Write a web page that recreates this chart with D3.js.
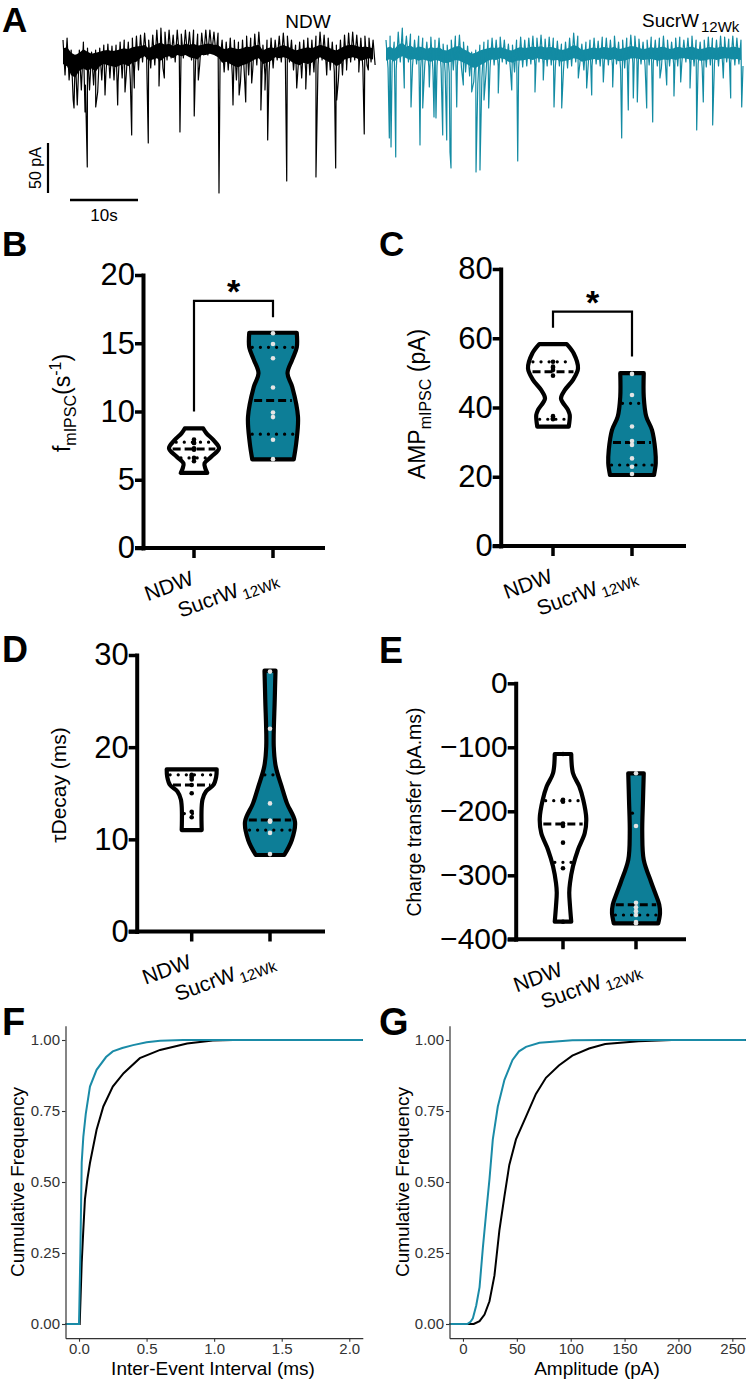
<!DOCTYPE html>
<html><head><meta charset="utf-8">
<script src="https://cdn.jsdelivr.net/npm/d3@7"></script>
<style>body{margin:0;background:#fff}svg{display:block}</style>
</head><body><svg id="fig" width="746" height="1380"></svg>
<script>
// ---------------- DATA ----------------
const groups = ["NDW", "SucrW12Wk"];

// Panel A traces (pA, sampled every traceDt seconds: upper / lower noise envelope) and events [time s, pA]
const traceDt = 0.6;
const ndwTraceTop = [15,17,5,0,5,13,7,3,5,7, 10,11,9,10,13,15,13,17,19,20, 22,15,20,25,27,23,25,20,25,21, 25,23,25,21,22,25,25,23,22,15, 13,17,15,13,15,19,17,21,23,10, 15,17,15,19,22,19,15,10,13,15, 17,15,19,23,20,17,13,10,15,20, 22,23,20,17,19,17,15];
const ndwTraceBottom = [-20,-25,-45,-50,-35,-30,-35,-30,-37,-25, -20,-23,-25,-27,-23,-20,-25,-17,-15,-7, -3,-13,-10,-7,-13,-5,-3,-7,0,-3, 0,-5,-7,-10,0,0,3,0,-5,-17, -15,-20,-25,-27,-23,-20,-15,-10,-7,-20, -17,-13,-5,-7,-5,-7,-15,-20,-23,-17, -20,-17,-10,-5,-10,-15,-17,-25,-20,-10, -7,-5,-7,-13,-10,-7,-10];
const ndwEvents = [[1.62,-53],[3.24,-57],[3.57,-112],[4.81,-52],[6.18,-40],[8.04,-50],[9.12,-37],[10.1,-80],[10.49,-33],[12.54,-88],[14.12,-31],[14.9,-23],[17.2,-77],[19.3,-61],[19.9,-25],[22.94,-138],[25.0,-50],[25.9,-40],[26.87,-47],[27.75,-28],[29.1,-55],[29.7,-35],[30.1,-85],[32.9,-126],[34.37,-33],[35.7,-34],[37.2,-122],[38.78,-20],[40.1,-113],[40.25,-45],[41.7,-15],[43.5,-17],[44.3,-79],[44.9,-15]];

const sucTraceTop = [15,19,13,23,27,19,21,15,19,17, 13,18,15,17,11,10,15,19,20,13, 9,3,5,10,13,15,17,15,18,15, 11,10,15,18,15,17,19,17,20,16, 18,17,14,11,13,17,22,19,11,13, 15,17,14,18,17,15,19,13,15,17, 20,19,16,13,15,18,15,17,19,15, 13,17,18,15,17,19,15,13,15,18, 17,15,19,18,16,19,17,15];
const sucTraceBottom = [-13,-9,-15,-7,-3,-7,-11,-9,-13,-10, -12,-15,-11,-13,-17,-18,-15,-11,-13,-17, -21,-27,-29,-23,-19,-13,-10,-11,-7,-9, -15,-17,-13,-12,-11,-9,-11,-7,-9,-11, -10,-12,-11,-15,-13,-11,-7,-9,-15,-13, -11,-9,-11,-8,-10,-11,-9,-14,-13,-11, -8,-7,-9,-11,-10,-9,-11,-13,-10,-11, -9,-11,-8,-7,-9,-11,-9,-13,-12,-10, -9,-11,-9,-7,-8,-10,-9,-11];
const sucEvents = [[0.49,-83],[0.74,-92],[1.43,-102],[2.69,-33],[3.68,-52],[5.0,-90],[5.4,-53],[6.37,-32],[7.06,-62],[7.35,-63],[8.34,-80],[8.93,-85],[9.41,-97],[9.56,-113],[10.4,-52],[11.37,-30],[12.6,-37],[13.24,-117],[13.82,-115],[14.41,-45],[15.1,-53],[16.51,-38],[18.49,-35],[19.37,-106],[21.91,-37],[23.13,-25],[24.71,-52],[25.84,-53],[28.28,-23],[29.51,-33],[30.25,-40],[31.96,-27],[33.34,-32],[34.66,-83],[35.63,-55],[36.37,-43],[36.96,-47],[38.34,-53],[39.22,-67],[40.29,-23],[41.28,-30],[42.35,-41],[43.34,-27],[44.71,-33],[45.69,-75],[46.66,-47],[48.04,-70],[49.6,-23],[50.69,-43],[52.31,-52]];
const scaleBarPA = 50, scaleBarSec = 10;

// Panel B: frequency (s^-1)
const freqNDW = [7.95,7.7,7.7,7.3,7.25,7.2,6.6,6.35];
const freqSucr = [15.73,14.95,13.9,11.76,9.93,9.59,7.93,6.51];
const freqNDWDensity = [[5.5,0.53],[5.8,0.46],[6.2,0.42],[6.7,0.7],[7.3,1.0],[7.9,0.78],[8.4,0.5],[8.76,0.37]];
const freqSucrDensity = [[6.5,0.83],[7.7,0.93],[9.6,1.0],[11.8,0.77],[12.8,0.58],[13.8,0.77],[14.7,0.95],[15.77,0.95]];
const freqNDWQuartiles = [6.6,7.25,7.75];
const freqSucrQuartiles = [8.34,10.8,14.7];
const freqTicks = [0,5,10,15,20];
const freqBracket = [10,18.1,16.9];

// Panel C: amplitude (pA)
const ampNDW = [53.2,51.8,51.5,50.8,49.2,37.5,36.9,36.6];
const ampSucr = [49.7,43.6,34.5,30.3,29.2,25.3,22.9,20.8];
const ampNDWDensity = [[34.5,0.63],[37.8,0.67],[39.3,0.6],[42.6,0.32],[45,0.47],[48,0.8],[51.3,1.0],[55.6,0.83],[58.3,0.55]];
const ampSucrDensity = [[20.5,0.88],[23.9,0.95],[27.7,0.93],[33.5,0.8],[37.4,0.57],[43.1,0.47],[49.9,0.47]];
const ampNDWQuartiles = [36.6,50.3,53.2];
const ampSucrQuartiles = [23.4,29.9,41.2];
const ampTicks = [0,20,40,60,80];
const ampBracket = [63,67.7,54.7];

// Panel D: tau decay (ms)
const tauNDW = [17.0,16.9,16.7,16.5,15.9,15.0,13.0,12.4];
const tauSucr = [28.2,22.0,13.9,12.0,12.0,11.9,10.7,8.4];
const tauNDWDensity = [[11.0,0.4],[14.3,0.43],[15.2,0.57],[15.9,0.87],[16.8,0.98],[17.6,1.0]];
const tauSucrDensity = [[8.3,0.57],[9.9,0.87],[11.9,1.0],[13.9,0.68],[15.7,0.47],[17.9,0.23],[20.1,0.15],[25.2,0.19],[28.3,0.22]];
const tauNDWQuartiles = [12.8,15.9,17.0];
const tauSucrQuartiles = [11.0,12.1,17.0];
const tauTicks = [0,10,20,30];

// Panel E: charge transfer (pA.ms)
const chargeNDW = [-110.5,-182,-185,-219,-223,-249,-289,-372.5];
const chargeSucr = [-140.6,-223,-343,-350,-356,-362,-373,-375];
const chargeNDWDensity = [[-372.5,0.33],[-348,0.28],[-327,0.25],[-312,0.28],[-286,0.4],[-260,0.6],[-234,0.87],[-211,0.93],[-182,0.81],[-161,0.65],[-140.6,0.4],[-110.5,0.33]];
const chargeSucrDensity = [[-375,0.89],[-359,0.96],[-346,0.93],[-327,0.76],[-310,0.6],[-276,0.31],[-234,0.25],[-182,0.28],[-140.6,0.31]];
const chargeNDWQuartiles = [-279.7,-220,-183.4];
const chargeSucrQuartiles = [-362,-346,-203];
const chargeTicks = [0,-100,-200,-300,-400];

// Panels F, G: cumulative distributions
const ieiNDW = [[-0.1,0],[0.005,0],[0.012,0.1],[0.02,0.216],[0.032,0.333],[0.044,0.44],[0.062,0.51],[0.081,0.567],[0.13,0.684],[0.18,0.766],[0.25,0.836],[0.33,0.883],[0.45,0.936],[0.6,0.965],[0.8,0.988],[0.99,0.998],[1.14,1.0],[2.1,1.0]];
const ieiSucr = [[-0.1,0],[0.0,0],[0.01,0.25],[0.02,0.57],[0.032,0.66],[0.05,0.74],[0.081,0.836],[0.13,0.895],[0.2,0.94],[0.25,0.96],[0.32,0.972],[0.4,0.982],[0.5,0.992],[0.6,0.997],[0.77,1.0],[2.1,1.0]];
const ampCumNDW = [[-12.5,0],[10,0],[15.4,0.01],[20,0.033],[24.6,0.08],[29.2,0.17],[33.8,0.33],[38.5,0.45],[43,0.56],[49.2,0.65],[58.5,0.73],[67.7,0.81],[77,0.867],[89,0.91],[101.5,0.945],[117,0.97],[132,0.986],[163,0.996],[194,1.0],[262.5,1.0]];
const ampCumSucr = [[-12.5,0],[4,0],[7,0.008],[9.2,0.02],[12.3,0.065],[15.4,0.13],[18.5,0.27],[21.5,0.39],[24.6,0.51],[27.7,0.65],[32.3,0.765],[38.5,0.86],[46,0.93],[52,0.96],[58.5,0.976],[71,0.99],[101.5,0.999],[132,1.0],[262.5,1.0]];
const cumTicks = [0,0.25,0.5,0.75,1];
const ieiTicks = [0,0.5,1,1.5,2];
const ampCumTicks = [0,50,100,150,200,250];

// ---------------- STYLE / LAYOUT ----------------
const FONT = "'Liberation Sans', Arial, Helvetica, sans-serif";
const TEAL = "#0d7e97", TEAL_TRACE = "#138ba3", TEAL_LINE = "#1a8ba7";
const svg = d3.select("#fig");

function txt(g, x, y, s, size, opts = {}) {
  return g.append("text").attr("x", x).attr("y", y).text(s)
    .attr("font-family", FONT).attr("font-size", size)
    .attr("font-weight", opts.bold ? "bold" : null)
    .attr("text-anchor", opts.anchor || "start")
    .attr("fill", opts.fill || "#000");
}
function rich(g, parts, size, subSize) {
  const t = g.append("text").attr("font-family", FONT).attr("font-size", size);
  let shift = 0;
  parts.forEach(([s, kind, dx]) => {
    const target = kind === "sub" ? size * 0.25 : kind === "sup" ? -size * 0.38 : 0;
    t.append("tspan").text(s).attr("dy", target - shift).attr("dx", dx || null)
      .attr("font-size", kind ? subSize : size);
    shift = target;
  });
  return t;
}

// panel letters
[["A",2,32,35],["B",2,256,35],["C",379,256,35],["D",2,662,36],["E",379,663,36],["F",2,1035,38],["G",379,1035,38]]
  .forEach(([l,x,y,s]) => txt(svg, x, y, l, s, {bold: true}));

// ---------------- PANEL A ----------------
const pxPerSec = 6.8;
const yT = d3.scaleLinear().domain([0, -50]).range([55, 105]);
function drawTrace(top, bot, events, x0, color) {
  const dur = (top.length - 1) * traceDt + traceDt / 2;
  const x = d3.scaleLinear().domain([0, dur]).range([x0, x0 + dur * pxPerSec]);
  // dense core of the noise band
  const core = top.map((v, i) => [i * traceDt, v, bot[i]]);
  svg.append("path").attr("d", d3.area()
      .x(d => x(d[0])).y0(d => yT(d[2] * 0.45)).y1(d => yT(d[1] * 0.45))(core))
    .attr("fill", color);
  const pts = [];
  top.forEach((v, i) => { pts.push([i * traceDt, v]); pts.push([i * traceDt + traceDt / 2, bot[i]]); });
  events.forEach(e => pts.push(e));
  pts.sort((a, b) => a[0] - b[0]);
  svg.append("path").attr("d", d3.line().x(d => x(d[0])).y(d => yT(d[1]))(pts))
    .attr("fill", "none").attr("stroke", color).attr("stroke-width", 1.2).attr("stroke-linejoin", "round");
  return x;
}
const xNDWTrace = drawTrace(ndwTraceTop, ndwTraceBottom, ndwEvents, 63, "#000");
drawTrace(sucTraceTop, sucTraceBottom, sucEvents, 386, TEAL_TRACE);
txt(svg, 308, 28, "NDW", 19, {anchor: "middle"});
rich(svg, [["SucrW", null], ["12Wk", "sub", 2]], 19, 15).attr("x", 642).attr("y", 27);
// scale bars
const barBottom = 193;
svg.append("line").attr("x1", 48).attr("x2", 48).attr("y1", barBottom).attr("y2", barBottom - (yT(-scaleBarPA) - yT(0)))
  .attr("stroke", "#000").attr("stroke-width", 2.2);
const hb0 = xNDWTrace.invert(70);
svg.append("line").attr("x1", xNDWTrace(hb0)).attr("x2", xNDWTrace(hb0 + scaleBarSec)).attr("y1", 200).attr("y2", 200)
  .attr("stroke", "#000").attr("stroke-width", 2.6);
txt(svg, 0, 0, scaleBarPA + " pA", 16, {anchor: "middle"}).attr("transform", "translate(41,168) rotate(-90)");
txt(svg, 104, 221, scaleBarSec + "s", 17, {anchor: "middle"});

// ---------------- VIOLIN PANELS ----------------
function halfAt(dens, v) {
  for (let i = 0; i < dens.length - 1; i++) {
    const [a, wa] = dens[i], [b, wb] = dens[i + 1];
    if (v >= Math.min(a, b) && v <= Math.max(a, b)) return wa + (wb - wa) * (v - a) / (b - a);
  }
  return dens[0][1];
}
function violinPanel(p) {
  const g = svg.append("g");
  const y = d3.scaleLinear().domain(p.domain).range(p.range);
  const x = d3.scalePoint().domain(groups).range(p.centers);
  const w = d3.scaleLinear().domain([0, 1]).range([0, 25]);
  const yBase = y(p.domain[0]);

  p.series.forEach((s, i) => {
    const cx = x(groups[i]);
    const area = d3.area().curve(d3.curveCatmullRom.alpha(0.5))
      .y(d => y(d[0])).x0(d => cx - w(d[1])).x1(d => cx + w(d[1]));
    g.append("path").attr("d", area(s.dens)).attr("fill", s.fill)
      .attr("stroke", "#000").attr("stroke-width", 4.2).attr("stroke-linejoin", "round");
    s.quart.forEach((q, k) => {
      const hw = w(halfAt(s.dens, q)) - 3;
      g.append("line").attr("x1", cx - hw).attr("x2", cx + hw).attr("y1", y(q)).attr("y2", y(q))
        .attr("stroke", "#000").attr("stroke-width", k === 1 ? 3 : 3.2)
        .attr("stroke-dasharray", k === 1 ? "8,4" : "0.1,8").attr("stroke-linecap", k === 1 ? "butt" : "round");
    });
    s.vals.forEach(v => g.append("circle").attr("cx", cx).attr("cy", y(v)).attr("r", 2.3).attr("fill", s.dot));
  });

  const ax = g.append("g").attr("transform", `translate(${p.axisX},0)`)
    .call(d3.axisLeft(y).tickValues(p.ticks).tickSize(8).tickSizeOuter(0).tickPadding(0));
  ax.attr("font-family", FONT).attr("font-size", p.tickSize || 31);
  ax.select(".domain").attr("stroke-width", 4).attr("stroke-linecap", "square");
  ax.selectAll(".tick line").attr("stroke-width", 3.5);
  ax.selectAll(".tick text").attr("fill", "#000");
  g.append("line").attr("x1", p.axisX - 8).attr("x2", p.xEnd).attr("y1", yBase).attr("y2", yBase)
    .attr("stroke", "#000").attr("stroke-width", 4);
  groups.forEach(gr => {
    g.append("line").attr("x1", x(gr)).attr("x2", x(gr)).attr("y1", yBase).attr("y2", yBase + 10)
      .attr("stroke", "#000").attr("stroke-width", 3.5);
  });
  txt(g, 0, 0, "NDW", 21, {anchor: "end"})
    .attr("transform", `translate(${x(groups[0]) + 1},${yBase + 36}) rotate(-20)`);
  rich(g, [["SucrW", null], ["12Wk", "sub", 3]], 21, 15).attr("text-anchor", "end")
    .attr("transform", `translate(${x(groups[1]) + 6},${yBase + 34}) rotate(-20)`);
  rich(g, p.label, p.labelSize, p.labelSub).attr("text-anchor", "middle")
    .attr("transform", `translate(${p.labelX},${p.labelY}) rotate(-90)`);
  if (p.bracket) {
    const [b0, b1, b2] = p.bracket;
    const c0 = x(groups[0]), c1 = x(groups[1]);
    g.append("path").attr("d", d3.line()([[c0, y(b0)], [c0, y(b1)], [c1, y(b1)], [c1, y(b2)]]))
      .attr("fill", "none").attr("stroke", "#000").attr("stroke-width", 2.2);
    txt(g, (c0 + c1) / 2, y(b1) + 2, "*", 34, {anchor: "middle", bold: true});
  }
}

violinPanel({
  domain: [0, 20], range: [548, 275], centers: [194, 273], axisX: 143, xEnd: 325, ticks: freqTicks,
  series: [{vals: freqNDW, dens: freqNDWDensity, quart: freqNDWQuartiles, fill: "#fff", dot: "#000"},
           {vals: freqSucr, dens: freqSucrDensity, quart: freqSucrQuartiles, fill: TEAL, dot: "#e4e4e4"}],
  label: [["f", null], ["mIPSC", "sub"], ["(s", null], ["-1", "sup"], [")", null]], labelSize: 23, labelSub: 16,
  labelX: 70, labelY: 403, bracket: freqBracket
});
violinPanel({
  domain: [0, 80], range: [546, 269], centers: [553, 632], axisX: 500.7, xEnd: 686, ticks: ampTicks,
  series: [{vals: ampNDW, dens: ampNDWDensity, quart: ampNDWQuartiles, fill: "#fff", dot: "#000"},
           {vals: ampSucr, dens: ampSucrDensity, quart: ampSucrQuartiles, fill: TEAL, dot: "#e4e4e4"}],
  label: [["AMP", null], ["mIPSC", "sub"], [" (pA)", null]], labelSize: 23, labelSub: 16,
  labelX: 425, labelY: 404, bracket: ampBracket
});
violinPanel({
  domain: [0, 30], range: [931.5, 655], centers: [191.7, 270], axisX: 136.7, xEnd: 325, ticks: tauTicks,
  series: [{vals: tauNDW, dens: tauNDWDensity, quart: tauNDWQuartiles, fill: "#fff", dot: "#000"},
           {vals: tauSucr, dens: tauSucrDensity, quart: tauSucrQuartiles, fill: TEAL, dot: "#e4e4e4"}],
  label: [["τDecay (ms)", null]], labelSize: 21, labelSub: 15,
  labelX: 66, labelY: 785
});
violinPanel({
  domain: [-400, 0], range: [939.3, 683.3], centers: [563, 636], axisX: 515.7, xEnd: 686, ticks: chargeTicks,
  tickSize: 30,
  series: [{vals: chargeNDW, dens: chargeNDWDensity, quart: chargeNDWQuartiles, fill: "#fff", dot: "#000"},
           {vals: chargeSucr, dens: chargeSucrDensity, quart: chargeSucrQuartiles, fill: TEAL, dot: "#e4e4e4"}],
  label: [["Charge transfer (pA.ms)", null]], labelSize: 19.5, labelSub: 14,
  labelX: 421, labelY: 812
});

// ---------------- CUMULATIVE PANELS ----------------
function cumPanel(p) {
  const g = svg.append("g");
  const x = d3.scaleLinear().domain(p.xDomain).range(p.xRange);
  const y = d3.scaleLinear().domain([-0.05, 1.05]).range([1338.2, 1025.8]);
  const line = d3.line().x(d => x(d[0])).y(d => y(d[1]));
  g.append("path").attr("d", line(p.black)).attr("fill", "none").attr("stroke", "#000").attr("stroke-width", 2);
  g.append("path").attr("d", line(p.teal)).attr("fill", "none").attr("stroke", TEAL_LINE).attr("stroke-width", 2);
  const ay = g.append("g").attr("transform", `translate(${p.xRange[0]},0)`)
    .call(d3.axisLeft(y).tickValues(cumTicks).tickFormat(d3.format(".2f")).tickSize(3.5).tickSizeOuter(0).tickPadding(2));
  const ax = g.append("g").attr("transform", `translate(0,${y(-0.05)})`)
    .call(d3.axisBottom(x).tickValues(p.xTicks).tickFormat(p.fmt).tickSize(3.5).tickSizeOuter(0).tickPadding(2));
  [ax, ay].forEach(a => {
    a.attr("font-family", FONT).attr("font-size", 15);
    a.select(".domain").attr("stroke", "#333").attr("stroke-width", 1.2);
    a.selectAll(".tick line").attr("stroke", "#333").attr("stroke-width", 1.1);
    a.selectAll(".tick text").attr("fill", "#333");
  });
  txt(g, p.titleX, 1375, p.xTitle, 19, {anchor: "middle"});
  txt(g, 0, 0, "Cumulative Frequency", 19, {anchor: "middle"})
    .attr("transform", `translate(${p.yTitleX},1182) rotate(-90)`);
}
cumPanel({xDomain: [-0.1, 2.1], xRange: [65.5, 362.8], xTicks: ieiTicks, fmt: d3.format(".1f"),
  black: ieiNDW, teal: ieiSucr, xTitle: "Inter-Event Interval (ms)", titleX: 213, yTitleX: 24});
cumPanel({xDomain: [-12.5, 262.5], xRange: [449.5, 745.8], xTicks: ampCumTicks, fmt: d3.format("d"),
  black: ampCumNDW, teal: ampCumSucr, xTitle: "Amplitude (pA)", titleX: 597, yTitleX: 409});
</script></body></html>
